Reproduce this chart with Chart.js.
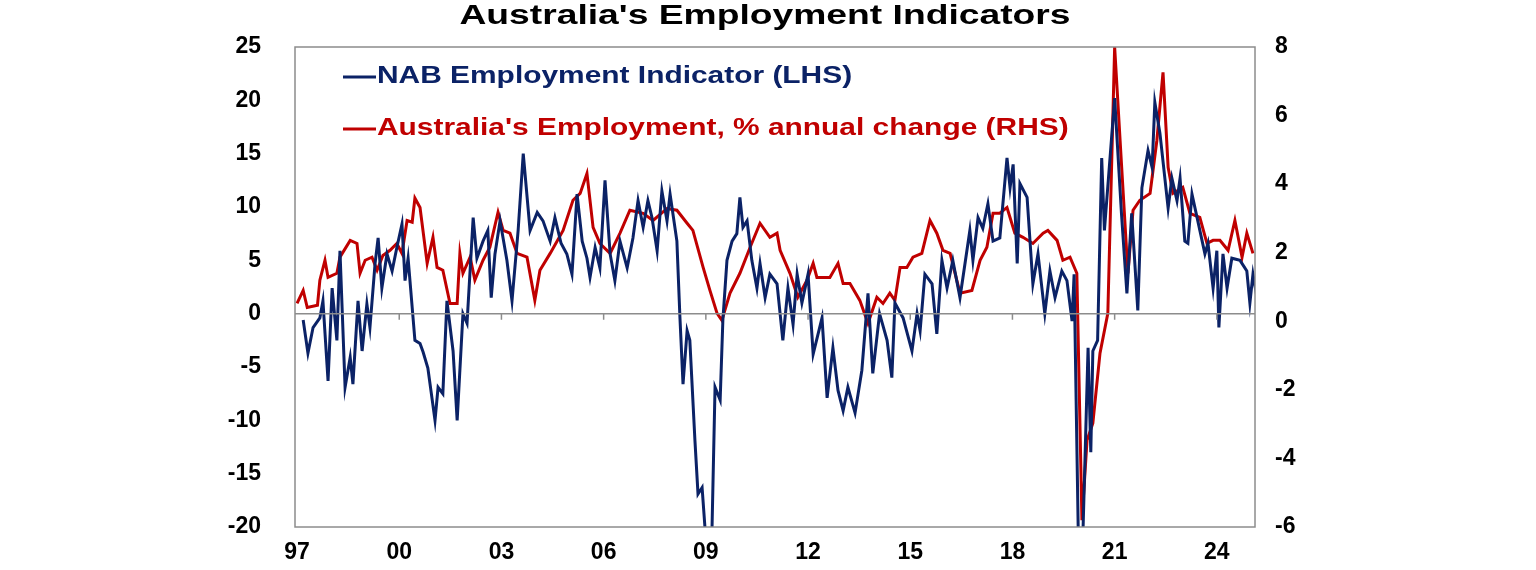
<!DOCTYPE html>
<html><head><meta charset="utf-8">
<script src="https://cdn.jsdelivr.net/npm/chart.js@4"></script>
<style>html,body{margin:0;padding:0;background:#fff}#c{display:block}</style>
</head><body>
<div style="width:1536px;height:570px"><canvas id="c"></canvas></div>
<script>
const xTickYears=[1997,2000,2003,2006,2009,2012,2015,2018,2021,2024];
const nabX=[1997.18,1997.32,1997.47,1997.67,1997.76,1997.91,1998.03,1998.17,1998.26,1998.41,1998.56,1998.64,1998.79,1998.91,1999.05,1999.14,1999.29,1999.38,1999.49,1999.64,1999.79,1999.93,2000.08,2000.17,2000.26,2000.46,2000.61,2000.7,2000.84,2001.05,2001.14,2001.28,2001.4,2001.58,2001.7,2001.87,2001.99,2002.17,2002.28,2002.46,2002.6,2002.7,2002.81,2002.96,2003.16,2003.31,2003.49,2003.64,2003.84,2004.05,2004.22,2004.43,2004.57,2004.75,2004.92,2005.07,2005.22,2005.37,2005.51,2005.6,2005.75,2005.89,2006.04,2006.19,2006.33,2006.48,2006.69,2006.86,2007.01,2007.16,2007.3,2007.42,2007.57,2007.71,2007.86,2007.95,2008.15,2008.24,2008.33,2008.45,2008.53,2008.68,2008.77,2008.89,2008.98,2009.18,2009.27,2009.42,2009.5,2009.62,2009.77,2009.91,2010.0,2010.09,2010.21,2010.35,2010.5,2010.59,2010.74,2010.88,2011.09,2011.26,2011.41,2011.56,2011.68,2011.82,2012.0,2012.15,2012.41,2012.56,2012.73,2012.88,2013.03,2013.17,2013.38,2013.58,2013.76,2013.9,2014.1,2014.32,2014.46,2014.55,2014.79,2015.05,2015.2,2015.29,2015.43,2015.64,2015.78,2015.93,2016.08,2016.25,2016.46,2016.75,2016.84,2016.99,2017.13,2017.28,2017.43,2017.63,2017.84,2017.93,2018.02,2018.14,2018.22,2018.43,2018.6,2018.75,2018.95,2019.1,2019.25,2019.45,2019.6,2019.75,2019.81,2019.93,2020.07,2020.22,2020.3,2020.36,2020.5,2020.62,2020.7,2021.0,2021.2,2021.36,2021.5,2021.68,2021.8,2021.98,2022.1,2022.18,2022.33,2022.57,2022.68,2022.83,2022.92,2023.06,2023.15,2023.27,2023.42,2023.65,2023.74,2023.89,2024.0,2024.06,2024.18,2024.3,2024.44,2024.68,2024.88,2024.97,2025.06,2025.18];
const nabY=[-0.6,-3.7,-1.3,-0.4,1.2,-6.3,2.4,-2.5,5.9,-6.9,-4.1,-6.6,1.2,-3.5,0.9,-1.3,4.7,7.1,2.4,5.6,4,6.2,8.4,3.1,5.2,-2.5,-2.8,-3.6,-5.1,-10,-6.9,-7.5,1.2,-3.5,-10,0,-0.9,9,5.2,6.8,7.8,1.5,5.6,8.7,5,1.2,7.8,15,7.8,9.5,8.7,6.8,9,6.6,5.6,3.7,11.2,6.8,5.2,3.4,6.2,4.3,12.5,5.6,3.1,6.8,4.3,7.1,10.6,8.1,10.6,9,5.9,11.5,8.7,11.2,6.8,-0.4,-6.6,-1.6,-2.5,-11.9,-16.9,-16.3,-20.3,-20.3,-6.9,-8.1,-0.6,5,6.8,7.5,10.9,8.1,8.7,5,2.4,4.7,1.5,3.7,2.8,-2.5,2.4,-1,3.7,1,3.7,-3.8,-0.4,-7.9,-3.2,-7.2,-9.1,-6.9,-9.3,-5.3,1.9,-5.6,0,-2.5,-6,1,-0.4,-3.5,0,-1.6,3.7,2.8,-1.9,5,2.4,5,1.5,7.8,5,9,8,10.3,6.8,7.1,14.6,11.8,14,4.7,12.2,10.9,2.8,5.6,0,4,1.5,4,3.1,-0.7,3.7,-20.1,-20.5,-3.2,-13,-3.5,-2.5,14.6,7.8,20.2,9.4,1.9,9.4,0.3,11.8,15.3,13.7,19.8,16.9,9.9,12.7,10.6,12.7,6.8,6.6,11.2,9,5.6,6.6,2.4,5.9,-1.3,5.6,2.4,5.2,5,4,1,3.7,1.5];
const empX=[1997.0,1997.18,1997.3,1997.6,1997.67,1997.82,1997.91,1998.17,1998.26,1998.56,1998.76,1998.85,1999.0,1999.2,1999.35,1999.52,1999.73,1999.93,2000.08,2000.23,2000.38,2000.46,2000.61,2000.82,2000.99,2001.11,2001.28,2001.49,2001.7,2001.78,2001.87,2002.08,2002.22,2002.46,2002.66,2002.9,2003.05,2003.25,2003.46,2003.75,2003.98,2004.13,2004.43,2004.81,2005.1,2005.31,2005.51,2005.69,2005.89,2006.19,2006.48,2006.77,2007.16,2007.45,2007.86,2008.15,2008.45,2008.62,2008.92,2009.12,2009.33,2009.47,2009.71,2010.0,2010.3,2010.59,2010.88,2011.09,2011.18,2011.47,2011.7,2011.97,2012.15,2012.26,2012.64,2012.88,2013.03,2013.23,2013.52,2013.76,2014.02,2014.2,2014.4,2014.55,2014.7,2014.9,2015.08,2015.34,2015.58,2015.78,2015.96,2016.17,2016.46,2016.81,2017.05,2017.25,2017.43,2017.63,2017.84,2018.07,2018.31,2018.6,2018.9,2019.04,2019.31,2019.48,2019.69,2019.89,2020.04,2020.19,2020.36,2020.57,2020.8,2021.0,2021.2,2021.39,2021.54,2021.74,2022.04,2022.24,2022.42,2022.57,2022.71,2023.0,2023.21,2023.5,2023.71,2023.89,2024.09,2024.33,2024.53,2024.74,2024.88,2025.06];
const empY=[0.52,0.9,0.4,0.47,1.2,1.78,1.28,1.4,1.87,2.36,2.27,1.4,1.78,1.87,1.49,1.92,2.07,2.27,1.98,2.94,2.89,3.59,3.32,1.69,2.45,1.57,1.49,0.52,0.52,1.98,1.4,1.87,1.2,1.78,2.16,3.18,2.65,2.57,1.98,1.87,0.61,1.49,1.98,2.65,3.53,3.73,4.31,2.74,2.27,1.98,2.57,3.24,3.15,2.94,3.29,3.24,2.86,2.65,1.57,0.9,0.23,0.03,0.82,1.4,2.16,2.86,2.45,2.57,2.07,1.4,0.7,1.2,1.69,1.28,1.28,1.69,1.1,1.1,0.61,-0.06,0.7,0.52,0.82,0.61,1.57,1.57,1.87,1.98,2.94,2.57,2.07,1.98,0.82,0.9,1.78,2.16,3.15,3.15,3.32,2.57,2.45,2.27,2.57,2.65,2.36,1.78,1.87,1.4,-5.8,-3.47,-2.97,-0.93,0.23,8,4.6,1.4,3.24,3.53,3.73,5.28,7.26,4.49,3.73,3.91,3.15,3.03,2.27,2.36,2.36,2.07,2.94,1.87,2.57,1.98];
const leftTicks=[25,20,15,10,5,0,-5,-10,-15,-20];
const rightTicks=[8,6,4,2,0,-2,-4,-6];

const NAVY='#0b2266', RED='#c00000', AX='#8c8c8c';
const font={family:'Liberation Sans, Arial',size:23,weight:'bold'};
function wideText(c,t,x,y,sx,align){c.save();c.translate(x,y);c.scale(sx,1);c.textAlign=align;c.fillText(t,0,0);c.restore();}
const deco={id:'deco',afterDraw(ch){const c=ch.ctx,a=ch.chartArea;c.save();
 c.strokeStyle=AX;c.lineWidth=1.5;c.strokeRect(a.left,a.top,a.right-a.left,a.bottom-a.top);
 const y0=ch.scales.y.getPixelForValue(0);c.beginPath();c.moveTo(a.left,y0);c.lineTo(a.right,y0);
 xTickYears.slice(1).forEach(v=>{const x=ch.scales.x.getPixelForValue(v);c.moveTo(x,y0);c.lineTo(x,y0+6);});c.stroke();
 c.fillStyle='#000';c.font='bold 28px Liberation Sans, Arial';c.textBaseline='middle';
 wideText(c,"Australia's Employment Indicators",765,16,1.33,'center');
 c.font='bold 23px Liberation Sans, Arial';
 [[NAVY,'NAB Employment Indicator (LHS)',77],[RED,"Australia's Employment, % annual change (RHS)",129]].forEach(([col,t,y])=>{
  c.strokeStyle=col;c.lineWidth=3;c.beginPath();c.moveTo(343,y);c.lineTo(376,y);c.stroke();c.fillStyle=col;wideText(c,t,377,y,1.3,'left');});
 c.restore();}};
new Chart(document.getElementById('c'),{type:'line',
 data:{datasets:[
  {data:nabX.map((x,i)=>({x,y:nabY[i]})),borderColor:NAVY,borderWidth:3,pointRadius:0,tension:0,yAxisID:'y'},
  {data:empX.map((x,i)=>({x,y:empY[i]})),borderColor:RED,borderWidth:3,pointRadius:0,tension:0,yAxisID:'y2'}]},
 options:{responsive:true,maintainAspectRatio:false,animation:false,
  layout:{padding:{top:47,left:0,right:0,bottom:0}},
  plugins:{legend:{display:false},tooltip:{enabled:false}},
  scales:{
   x:{type:'linear',min:1996.94,max:2025.12,grid:{display:false},border:{display:false},
      afterBuildTicks:s=>{s.ticks=xTickYears.map(v=>({value:v}));},
      ticks:{color:'#000',font,maxRotation:0,autoSkip:false,padding:4,callback:v=>String(v%100).padStart(2,'0')},
      afterFit:s=>{s.height=43;}},
   y:{position:'left',min:-20,max:25,grid:{display:false},border:{display:false},
      afterBuildTicks:s=>{s.ticks=leftTicks.map(v=>({value:v}));},
      ticks:{color:'#000',font,padding:26},afterFit:s=>{s.width=295;}},
   y2:{position:'right',min:-6,max:8,grid:{display:false},border:{display:false},
      afterBuildTicks:s=>{s.ticks=rightTicks.map(v=>({value:v}));},
      ticks:{color:'#000',font,padding:12},afterFit:s=>{s.width=281;}}}},
 plugins:[deco]});
</script></body></html>
